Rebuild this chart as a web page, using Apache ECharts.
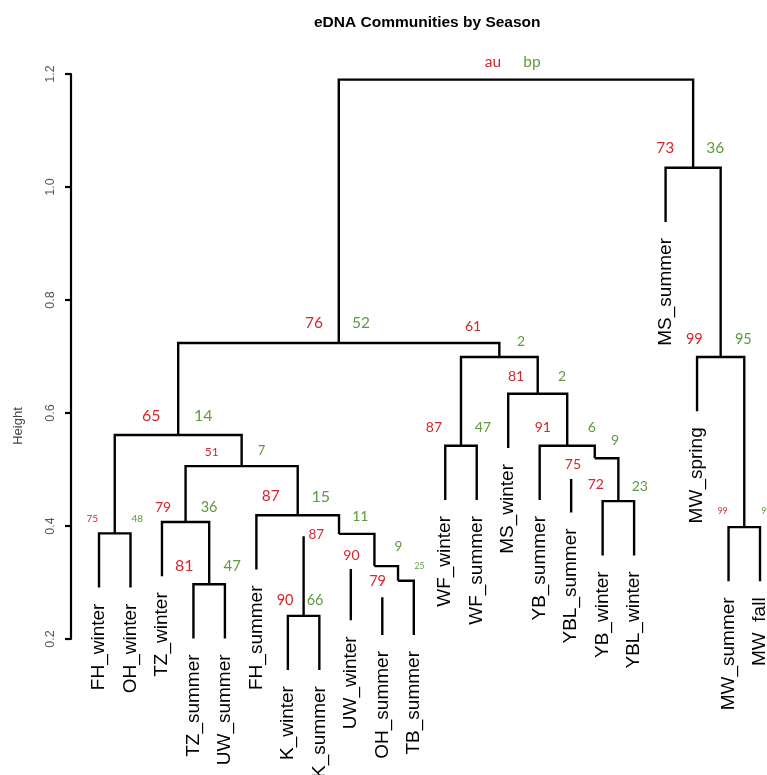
<!DOCTYPE html>
<html>
<head>
<meta charset="utf-8">
<title>eDNA Communities by Season</title>
<script src="https://cdn.jsdelivr.net/npm/echarts@6/dist/echarts.min.js"></script>
<style>
  html, body { margin: 0; padding: 0; background: #ffffff; }
  #chart { width: 767px; height: 775px; }
</style>
</head>
<body>
<div id="chart"></div>
<script>
// Sample names, in dendrogram leaf order
const leafNames = [
  'FH_winter', 'OH_winter', 'TZ_winter', 'TZ_summer', 'UW_summer', 'FH_summer',
  'K_winter', 'K_summer', 'UW_winter', 'OH_summer', 'TB_summer', 'WF_winter',
  'WF_summer', 'MS_winter', 'YB_summer', 'YBL_summer', 'YB_winter', 'YBL_winter',
  'MS_summer', 'MW_spring', 'MW_summer', 'MW_fall'
];

// Merge table, hclust style: negative = leaf number, positive = earlier merge (1-based); third entry = height
const merges = [
  [-4, -5, 0.297],
  [-7, -8, 0.241],
  [-10, -11, 0.303],
  [-9, 3, 0.329],
  [2, 4, 0.386],
  [-6, 5, 0.419],
  [-3, 1, 0.407],
  [7, 6, 0.506],
  [-1, -2, 0.387],
  [9, 8, 0.561],
  [-12, -13, 0.542],
  [-17, -18, 0.444],
  [-16, 12, 0.520],
  [-15, 13, 0.542],
  [-14, 14, 0.634],
  [11, 15, 0.699],
  [10, 16, 0.724],
  [-21, -22, 0.398],
  [-20, 18, 0.699],
  [-19, 19, 1.034],
  [17, 20, 1.190]
];

// Bootstrap support per merge (the root carries the column headers instead)
const auValues = [81, 90, 79, 90, 87, 87, 79, 51, 75, 65, 87, 72, 75, 91, 81, 61, 76, 99, 99, 73, null];
const bpValues = [47, 66, 25, 9, 11, 15, 36, 7, 48, 14, 47, 23, 9, 6, 2, 2, 52, 99, 95, 36, null];
const statNames = ['au', 'bp'];

// Branches whose stem starts below the parent bar: child ref -> stem top height
const detachedTop = { '2': 0.382, '-9': 0.324, '-10': 0.274, '-16': 0.483 };

const heightTicks = [0.2, 0.4, 0.6, 0.8, 1.0, 1.2];

// ---- drawing parameters ----
const HANG = 0.096;
const RED = '#d9252b';
const GREEN = '#5e9a3e';
// per merge: [au dx, au dy, au size, bp dx, bp dy, bp size] in px from the node's joint
const statLayout = [
  [-25, -18, 16, 23, -18, 15],
  [-18.5, -16, 14.5, 11.5, -16, 14.5],
  [-20.5, 1, 14.5, 21.5, -15, 8.5],
  [-23, -11, 14, 24, -19, 13.5],
  [-22.7, 1, 13.5, 21.3, -17, 14],
  [-27, -19, 15.5, 23, -18, 16],
  [-22.5, -15, 14, 23.5, -15, 14.5],
  [-30, -14, 12, 20, -15, 13],
  [-22.5, -15, 10, 22.5, -15, 10],
  [-27, -19, 16, 25, -19, 16],
  [-27, -18, 14, 22, -18, 14],
  [-22.5, -17, 14, 21.5, -15, 14],
  [-21.8, 6, 14, 20.2, -18, 14],
  [-24.4, -18, 14, 24.6, -18, 14],
  [-21.7, -17, 14, 24.3, -17, 14],
  [-26.3, -31, 14, 21.7, -16, 14],
  [-24.7, -20, 15.5, 22.3, -20, 15.5],
  [-21.7, -16, 8.5, 22, -16, 8.5],
  [-26.3, -18, 14.5, 22.7, -18, 14.5],
  [-28, -20, 15.5, 22, -20, 15.5],
  [-23, -18, 15.5, 16, -18, 15.5]
];

// ---- tree geometry in data units (x = leaf position, y = height) ----
const nodeX = [], nodeH = [];
const leafBottom = new Array(leafNames.length);
const refX = r => (r < 0 ? -r : nodeX[r - 1]);
merges.forEach(([a, b, h], i) => {
  nodeX[i] = (refX(a) + refX(b)) / 2;
  nodeH[i] = h;
  [a, b].forEach(r => { if (r < 0) leafBottom[-r - 1] = h - HANG; });
});
const refBottom = r => (r < 0 ? leafBottom[-r - 1] : nodeH[r - 1]);

const segments = [];
merges.forEach(([a, b, h], i) => {
  const x = nodeX[i];
  const da = detachedTop[String(a)], db = detachedTop[String(b)];
  const xa = refX(a), xb = refX(b), ya = refBottom(a), yb = refBottom(b);
  const left = da === undefined ? [[xa, ya], [xa, h]] : [[x, h]];
  const right = db === undefined ? [[xb, h], [xb, yb]] : [[x, h]];
  segments.push(left.concat(right));
  if (da !== undefined) segments.push([[xa, da], [xa, ya]]);
  if (db !== undefined) segments.push([[xb, db], [xb, yb]]);
});

const X_MIN = 0.11, X_MAX = 22.222;
const chart = echarts.init(document.getElementById('chart'), null, { renderer: 'canvas' });

chart.setOption({
  animation: false,
  backgroundColor: '#ffffff',
  title: {
    text: 'eDNA Communities by Season',
    left: 314, top: 15, padding: 0,
    textStyle: { fontSize: 15.5, fontWeight: 'bold', fontFamily: '"Liberation Sans", Arial, sans-serif', color: '#000' }
  },
  graphic: [{
    type: 'text', x: 18, y: 426, rotation: Math.PI / 2,
    style: { text: 'Height', fill: '#444', font: '13px "Liberation Sans", Arial, sans-serif', align: 'center', verticalAlign: 'middle' }
  }],
  grid: [
    { left: 71, top: 74, width: 696, height: 565 },
    { left: 71, top: 74, width: 696, height: 678 }
  ],
  xAxis: [
    { gridIndex: 0, type: 'value', min: X_MIN, max: X_MAX, show: false },
    { gridIndex: 1, type: 'value', min: X_MIN, max: X_MAX, show: false }
  ],
  yAxis: [
    {
      gridIndex: 0, type: 'value', min: heightTicks[0], max: heightTicks[heightTicks.length - 1],
      axisLine: { show: true, lineStyle: { color: '#000', width: 2.2 } },
      axisTick: { show: true, length: 6, lineStyle: { color: '#000', width: 2.2 }, customValues: heightTicks },
      axisLabel: {
        rotate: 90, margin: 14, color: '#555', fontSize: 12.5,
        fontFamily: '"Liberation Sans", Arial, sans-serif',
        customValues: heightTicks,
        formatter: v => Number(v).toFixed(1)
      },
      splitLine: { show: false }
    },
    { gridIndex: 1, type: 'value', min: 0, max: 1.2, show: false }
  ],
  series: [
    {
      type: 'lines', coordinateSystem: 'cartesian2d', xAxisIndex: 1, yAxisIndex: 1,
      polyline: true, silent: true,
      lineStyle: { color: '#000', width: 2.4, opacity: 1, cap: 'butt', join: 'miter' },
      data: segments.map(c => ({ coords: c }))
    },
    {
      type: 'custom', xAxisIndex: 1, yAxisIndex: 1, clip: false, silent: true,
      encode: { x: 0, y: 1 },
      data: merges.map((m, i) => [nodeX[i], nodeH[i], i]),
      renderItem: (params, api) => {
        const i = api.value(2);
        const p = api.coord([api.value(0), api.value(1)]);
        const L = statLayout[i];
        const au = auValues[i] === null ? statNames[0] : String(auValues[i]);
        const bp = bpValues[i] === null ? statNames[1] : String(bpValues[i]);
        return {
          type: 'group',
          children: [
            { type: 'text', x: p[0] + L[0], y: p[1] + L[1],
              style: { text: au, fill: RED, font: L[2] + 'px Lato, "Open Sans", sans-serif', align: 'center', verticalAlign: 'middle' } },
            { type: 'text', x: p[0] + L[3], y: p[1] + L[4],
              style: { text: bp, fill: GREEN, font: L[5] + 'px Lato, "Open Sans", sans-serif', align: 'center', verticalAlign: 'middle' } }
          ]
        };
      }
    },
    {
      type: 'custom', xAxisIndex: 1, yAxisIndex: 1, clip: false, silent: true,
      encode: { x: 0, y: 1 },
      data: leafNames.map((n, i) => [i + 1, leafBottom[i], i]),
      renderItem: (params, api) => {
        const p = api.coord([api.value(0), api.value(1)]);
        return {
          type: 'text', x: p[0], y: p[1] + 16, rotation: Math.PI / 2,
          style: { text: leafNames[api.value(2)], fill: '#000', font: '19px "Liberation Sans", Arial, sans-serif', align: 'right', verticalAlign: 'middle' }
        };
      }
    }
  ]
});
</script>
</body>
</html>
